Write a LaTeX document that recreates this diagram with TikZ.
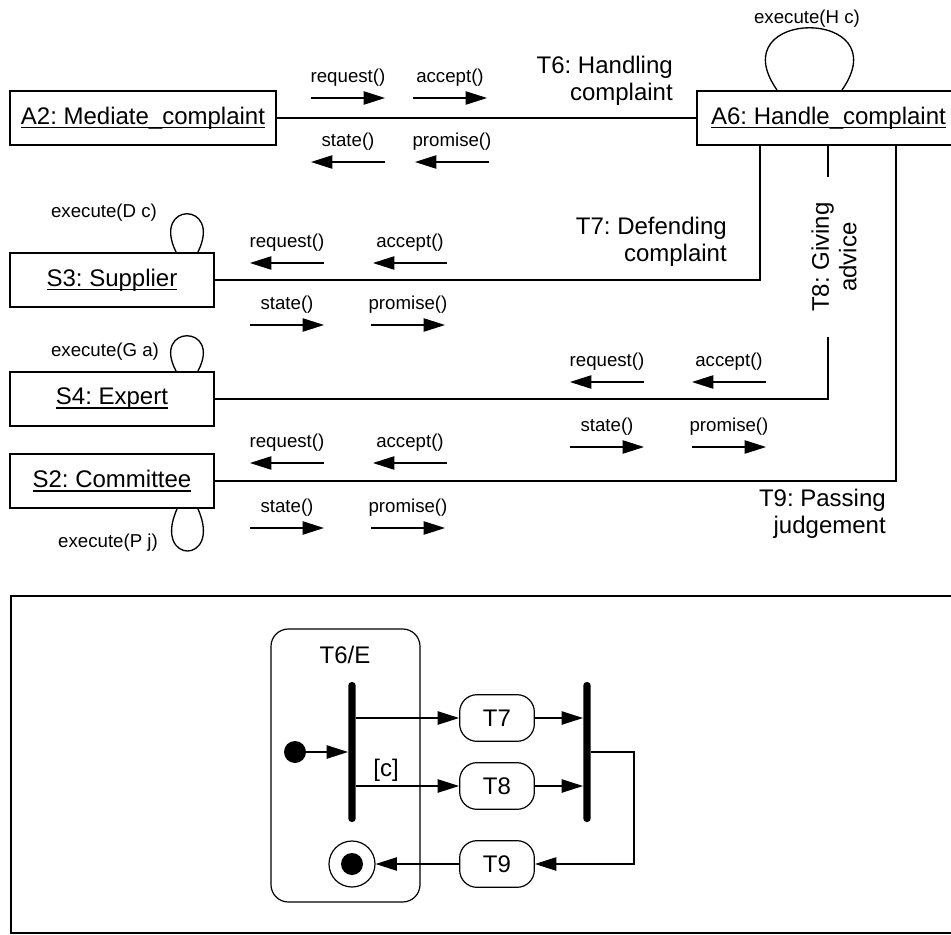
\documentclass[tikz,border=0pt]{standalone}
\usepackage{fontspec}
\setmainfont{Liberation Sans}
\usetikzlibrary{arrows.meta}
\frenchspacing
\newcommand{\objname}[1]{\setbox0\hbox{#1}\rlap{\rule[-3pt]{\wd0}{1.1pt}}\box0}

\begin{document}
\begin{tikzpicture}[
  x=0.75pt, y=-0.75pt,
  >={Triangle[length=16pt,width=10pt]},
  big/.style={font=\fontsize{18}{21}\selectfont},
  obj/.style={draw, line width=1.5pt, minimum height=40.5pt, inner sep=0pt, big},
  msg/.style={font=\fontsize{14}{17}\selectfont},
  msgline/.style={line width=0.9pt},
  trans/.style={align=right, anchor=east, inner sep=0pt,
    font=\fontsize{18}{20.5}\selectfont},
  link/.style={draw, line width=1.3pt},
  loopline/.style={line width=1pt},
  act/.style={draw, line width=0.9pt, rounded corners=13pt, minimum width=56pt,
    minimum height=35pt, big},
  bar/.style={fill, inner sep=0pt, minimum width=5.5pt, minimum height=105pt,
    rounded corners=2.5pt},
  flow/.style={->, line width=0.9pt}
]
\useasboundingbox (0,0) rectangle (951,935);

\node[obj, minimum width=199.5pt] (a2) at (143,118) {\objname{A2: Mediate\_complaint}};
\node[obj, minimum width=197.25pt] (a6) at (828.5,118) {\objname{A6: Handle\_complaint}};
\node[obj, minimum width=153pt] (s3) at (112,280) {\objname{S3: Supplier}};
\node[obj, minimum width=153pt] (s4) at (112,399) {\objname{S4: Expert}};
\node[obj, minimum width=153pt] (s2) at (112,481) {\objname{S2: Committee}};

\node[trans] (lab6) at (673,81) {T6: Handling\\complaint};
\node[trans] (lab7) at (727,241.5) {T7: Defending\\complaint};
\node[trans] (lab9) at (886,513.5) {T9: Passing\\judgement};
\node[trans, rotate=90, align=center, anchor=center, outer sep=18.75pt] (lab8)
  at (834,257) {T8: Giving\\advice};

\draw[link] (a2) -- (a6);
\draw[link] (a6.south west) ++(64,0) |- (s3);
\path (a6.south west) ++(132,0) coordinate (t8top);
\draw[link] (t8top) -- (t8top |- lab8.east);
\draw[link] (t8top |- lab8.west) |- (s4);
\draw[link] (a6.south west) ++(200,0) |- (s2);

\node[msg] (xa6) at (807,19) {execute(H c)};
\node[msg] (xs3) at (104,213) {execute(D c)};
\node[msg] (xs4) at (105,352) {execute(G a)};
\node[msg] (xs2) at (108,543) {execute(P j)};
\draw[loopline] (a6.north west) ++(81,0) .. controls +(-58,-83) and +(58,-83) .. ++(65,0);
\draw[loopline] (s3.north east) ++(-39,0) .. controls +(-25,-51) and +(25,-51) .. ++(22,0);
\draw[loopline] (s4.north east) ++(-39,0) .. controls +(-25,-47) and +(25,-47) .. ++(22,0);
\draw[loopline] (s2.south east) ++(-38,0) .. controls +(-25,56) and +(25,56) .. ++(21,0);

\foreach \n/\x/\y/\t/\d in {
  m1/348/78/request()/1, m2/450/78/accept()/1,
  m3/348/142/state()/-1, m4/452/142/promise()/-1,
  m5/287/243/request()/-1, m6/410/243/accept()/-1,
  m7/287/305/state()/1, m8/408/305/promise()/1,
  m9/607/362/request()/-1, m10/729/362/accept()/-1,
  m11/607/427/state()/1, m12/729/427/promise()/1,
  m13/287/443/request()/-1, m14/410/443/accept()/-1,
  m15/287/508/state()/1, m16/408/508/promise()/1}
{
  \node[msg] (\n) at (\x,\y) {\t};
  \draw[msgline,->] ([shift={({-37*(\d)},20)}]\n.center) -- ([shift={({37*(\d)},20)}]\n.center);
}

\draw[line width=2pt] (11,596) rectangle (965,933);

\node[draw, line width=0.9pt, rounded corners=13pt, minimum width=111.75pt,
  minimum height=204.75pt] (t6e) at (345.5,765.5) {};
\node[big] (t6elab) at (345,655) {T6/E};
\node[bar] (fork) at (352,752) {};
\node[bar] (join) at (587,752) {};
\node[circle, fill, inner sep=0pt, minimum size=16.5pt] (init) at (295,752) {};
\node[circle, draw, line width=0.9pt, inner sep=0pt, minimum size=34.5pt] (final) at (352,864) {};
\node[circle, fill, inner sep=0pt, minimum size=16.5pt] (finaldot) at (final) {};
\node[act] (a7) at (497,718) {T7};
\node[act] (a8) at (497,786) {T8};
\node[act] (a9) at (497,864) {T9};
\node[big] (cond) at (386,770) {[c]};

\draw[flow] (init) -- (init -| fork.west);
\draw[flow] (fork.east |- a7) -- (a7);
\draw[flow] (fork.east |- a8) -- (a8);
\draw[flow] (a7) -- (a7 -| join.west);
\draw[flow] (a8) -- (a8 -| join.west);
\draw[flow] (join.east) -- ++(43,0) |- (a9);
\draw[flow] (a9) -- (final);

\end{tikzpicture}
\end{document}
